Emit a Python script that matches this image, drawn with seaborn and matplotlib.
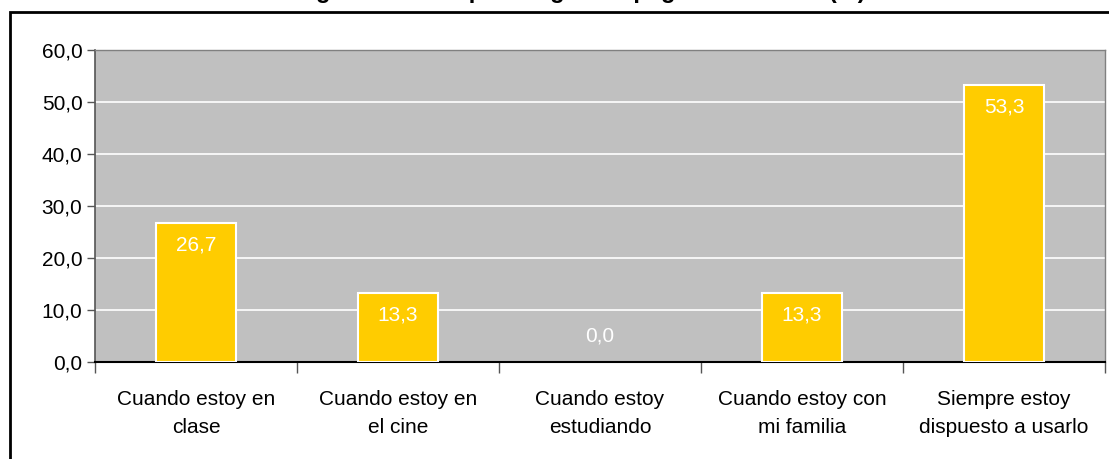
import matplotlib
matplotlib.use("Agg")
import matplotlib.pyplot as plt
import seaborn as sns
import pandas as pd
from matplotlib.patches import Rectangle

# data
categories = ["Cuando estoy en\nclase", "Cuando estoy en\nel cine", "Cuando estoy\nestudiando",
              "Cuando estoy con\nmi familia", "Siempre estoy\ndispuesto a usarlo"]
values = [26.7, 13.3, 0.0, 13.3, 53.3]
yticks = [0, 10, 20, 30, 40, 50, 60]

df = pd.DataFrame({"cat": categories, "val": values})

sns.set_theme(style="white")
plt.rcParams['font.family'] = ['Liberation Sans', 'DejaVu Sans']

fig = plt.figure(figsize=(11.09, 4.59), dpi=100)
ax = fig.add_axes([95/1109, 1-362/459, 1010/1109, 312/459])
ax.set_facecolor("#C0C0C0")

sns.barplot(data=df, x="cat", y="val", color="#FFCC00", edgecolor="white",
            linewidth=1.5, width=0.4, saturation=1, ax=ax, zorder=3)
# no visible edge for empty bars
for p, v in zip(ax.patches, values):
    if v == 0:
        p.set_linewidth(0)

ax.set_ylim(0, 60)
ax.set_xlim(-0.5, 4.5)
ax.set_yticks(yticks)
ax.set_yticklabels([f"{v:.1f}".replace(".", ",") for v in yticks], fontsize=15, color="black")
ax.yaxis.grid(True, color="white", linewidth=1.2, zorder=0)
ax.set_axisbelow(True)
ax.tick_params(axis="y", left=True, length=6, width=1, color="#555555", pad=3)
ax.tick_params(axis="x", bottom=False, labelsize=15, pad=14, labelcolor="black")
ax.set_xticks(range(5))
ax.set_xticklabels(categories, linespacing=1.6)
ax.set_xticks([i - 0.5 for i in range(6)], minor=True)
ax.tick_params(axis="x", which="minor", bottom=True, length=8, width=1, color="#555555")
ax.set_xlabel("")
ax.set_ylabel("")

for s in ["top", "right"]:
    ax.spines[s].set_color("#808080")
    ax.spines[s].set_linewidth(1)
ax.spines["left"].set_color("#555555")
ax.spines["left"].set_linewidth(1.2)
ax.spines["bottom"].set_color("black")
ax.spines["bottom"].set_linewidth(1.5)

for i, v in enumerate(values):
    txt = f"{v:.1f}".replace(".", ",")
    y = v - 4.2 if v > 5 else 5.0
    ax.text(i, y, txt, ha="center", va="center", color="white", fontsize=15, zorder=5)

# outer frame of chart
fig.patches.append(Rectangle((10/1109, -0.1), 1.2, 1 - 12/459 + 0.1, transform=fig.transFigure,
                             fill=False, edgecolor="black", linewidth=2))

# title (top cut off in reference)
fig.text(0.52, 1 + 2/459, "Lugares en los que me gusta apagar el teléfono (%)",
         ha="center", va="baseline", fontsize=17, fontweight="bold", color="black")

fig.savefig("out.png", dpi=100)
